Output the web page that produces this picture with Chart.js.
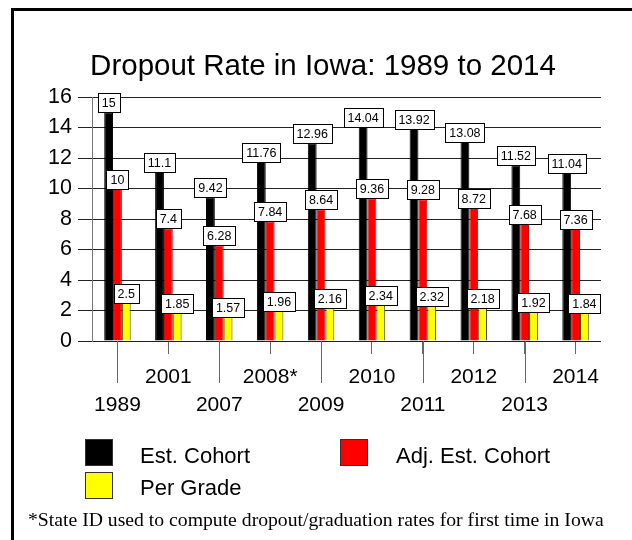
<!DOCTYPE html>
<html><head><meta charset="utf-8">
<script src="https://cdn.jsdelivr.net/npm/chart.js@4"></script>
<style>
html,body{margin:0;padding:0;background:#fff;}
body{width:632px;height:540px;position:relative;overflow:hidden;font-family:"Liberation Sans",Arial,sans-serif;color:#000;}
#frame{position:absolute;left:11px;top:8px;width:700px;height:600px;border-left:3px solid #000;border-top:3px solid #000;}
#c{position:absolute;left:0;top:0;}
#title{position:absolute;left:0;width:646px;top:50px;text-align:center;font-size:29.5px;line-height:1;white-space:nowrap;}
.sw{position:absolute;width:26px;height:25px;border:1px solid #333;}
.lt{position:absolute;font-size:22px;line-height:1;white-space:nowrap;}
#note{position:absolute;left:28px;top:510px;font-family:"Liberation Serif","Times New Roman",serif;font-size:19.7px;line-height:19px;white-space:nowrap;}
</style>
</head><body>
<div id="frame"></div>
<canvas id="c" width="632" height="540"></canvas>
<div id="title">Dropout Rate in Iowa: 1989 to 2014</div>
<div class="sw" style="left:85px;top:439px;background:#000;"></div>
<div class="lt" style="left:140px;top:445px;">Est. Cohort</div>
<div class="sw" style="left:340px;top:439px;background:#ff0000;"></div>
<div class="lt" style="left:396px;top:445px;">Adj. Est. Cohort</div>
<div class="sw" style="left:85px;top:472px;background:#ffff00;"></div>
<div class="lt" style="left:140px;top:477px;">Per Grade</div>
<div id="note">*State ID used to compute dropout/graduation rates for first time in Iowa</div>
<script>
const categories = ['1989','2001','2007','2008*','2009','2010','2011','2012','2013','2014'];
const estCohort = [15, 11.1, 9.42, 11.76, 12.96, 14.04, 13.92, 13.08, 11.52, 11.04];
const adjEstCohort = [10, 7.4, 6.28, 7.84, 8.64, 9.36, 9.28, 8.72, 7.68, 7.36];
const perGrade = [2.5, 1.85, 1.57, 1.96, 2.16, 2.34, 2.32, 2.18, 1.92, 1.84];
const seriesNames = ['Est. Cohort', 'Adj. Est. Cohort', 'Per Grade'];

const FONT = '"Liberation Sans", Arial, sans-serif';

const valueBoxes = {
  id: 'valueBoxes',
  afterDatasetsDraw(chart) {
    const c = chart.ctx;
    c.save();
    c.font = '12.5px ' + FONT;
    c.textAlign = 'center';
    c.textBaseline = 'middle';
    chart.data.datasets.forEach((ds, di) => {
      const meta = chart.getDatasetMeta(di);
      meta.data.forEach((bar, i) => {
        const txt = String(ds.data[i]);
        const w = Math.round(c.measureText(txt).width) + 8;
        const h = 19;
        const x = Math.round(bar.x - w / 2) + 0.5;
        const y = Math.round(bar.y - h) + 0.5;
        c.fillStyle = '#fff';
        c.fillRect(x, y, w, h);
        c.strokeStyle = '#000';
        c.lineWidth = 1;
        c.strokeRect(x, y, w, h);
        c.fillStyle = '#000';
        c.fillText(txt, bar.x, y + h / 2 + 0.5);
      });
    });
    c.restore();
  }
};

const longTicks = {
  id: 'longTicks',
  afterDraw(chart) {
    const s = chart.scales.x;
    const c = chart.ctx;
    c.save();
    c.strokeStyle = '#666';
    c.lineWidth = 1;
    s.ticks.forEach((t, i) => {
      if (i % 2 === 0) {
        const x = Math.round(s.getPixelForTick(i)) + 0.5;
        c.beginPath();
        c.moveTo(x, s.top);
        c.lineTo(x, s.top + 42);
        c.stroke();
      }
    });
    c.restore();
  }
};

new Chart(document.getElementById('c'), {
  type: 'bar',
  data: {
    labels: categories,
    datasets: [
      { label: seriesNames[0], data: estCohort, backgroundColor: '#000000', borderColor: '#000000', borderWidth: 1 },
      { label: seriesNames[1], data: adjEstCohort, backgroundColor: '#ff0000', borderColor: '#b00000', borderWidth: 1 },
      { label: seriesNames[2], data: perGrade, backgroundColor: '#ffff00', borderColor: '#444400', borderWidth: 1 }
    ]
  },
  options: {
    responsive: false,
    animation: false,
    layout: { padding: { left: 20, right: 31, top: 97, bottom: 119 } },
    datasets: { bar: { categoryPercentage: 0.52, barPercentage: 1 } },
    plugins: { legend: { display: false }, tooltip: { enabled: false }, title: { display: false } },
    scales: {
      x: {
        grid: { offset: false, drawOnChartArea: false, drawTicks: true, tickLength: 13, tickColor: '#666', tickWidth: 1 },
        border: { display: false },
        ticks: {
          autoSkip: false, maxRotation: 0, minRotation: 0, padding: 9, color: '#000',
          font: { family: FONT, size: 21, lineHeight: 1.34 },
          callback(value, index) {
            const l = this.getLabelForValue(value);
            return index % 2 === 0 ? ['', l] : [l, ''];
          }
        },
        afterFit(s) { s.height = 80; }
      },
      y: {
        min: 0, max: 16,
        ticks: { stepSize: 2, color: '#000', padding: 6, font: { family: FONT, size: 21.5 } },
        grid: { color: '#222', tickLength: 14, tickColor: '#222', lineWidth: 1 },
        border: { display: true, color: '#777' },
        afterFit(s) { s.width = 72; }
      }
    }
  },
  plugins: [valueBoxes, longTicks]
});
</script>
</body></html>
